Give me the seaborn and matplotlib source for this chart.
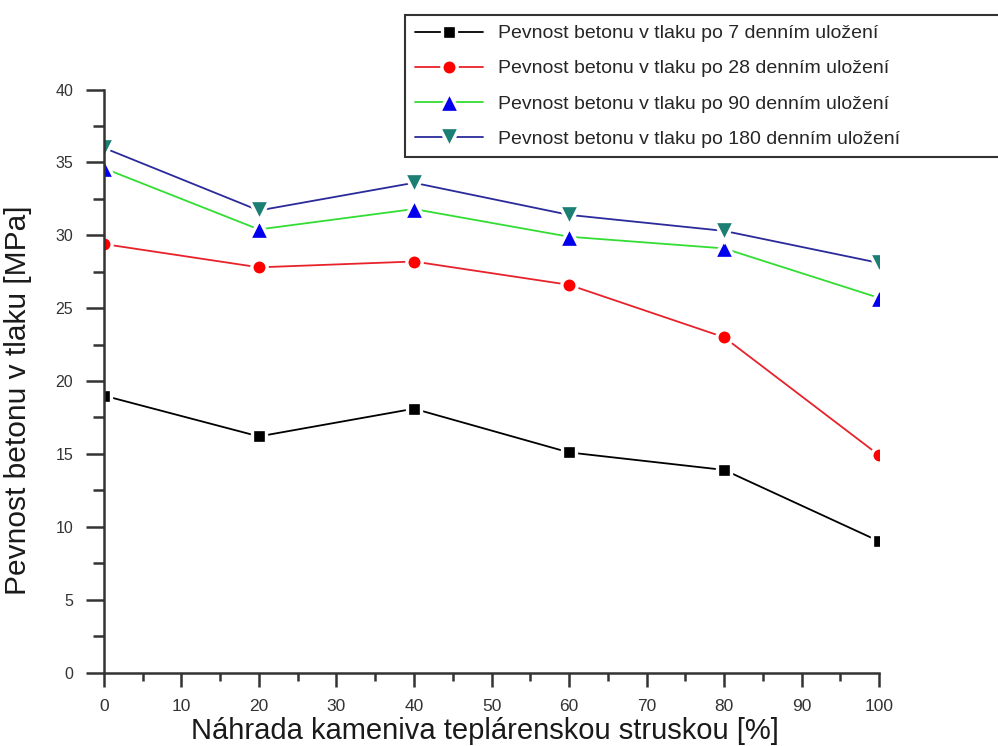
import matplotlib
matplotlib.use("Agg")
import matplotlib.pyplot as plt
from matplotlib.ticker import MultipleLocator
import seaborn as sns
import pandas as pd

# Replacement of aggregate by heating-plant slag [%]
nahrada = [0, 20, 40, 60, 80, 100]

# Compressive strength [MPa] after curing period
pevnost_7 = [19.0, 16.2, 18.1, 15.1, 13.9, 9.0]
pevnost_28 = [29.4, 27.8, 28.2, 26.6, 23.0, 14.9]
pevnost_90 = [34.6, 30.4, 31.8, 29.9, 29.1, 25.7]
pevnost_180 = [36.0, 31.7, 33.6, 31.4, 30.3, 28.1]

nazvy = [
    "Pevnost betonu v tlaku po 7 denním uložení",
    "Pevnost betonu v tlaku po 28 denním uložení",
    "Pevnost betonu v tlaku po 90 denním uložení",
    "Pevnost betonu v tlaku po 180 denním uložení",
]

sns.set_theme(style="white")
plt.rcParams["font.family"] = ["Liberation Sans", "DejaVu Sans"]

df = pd.DataFrame({
    "nahrada": nahrada * 4,
    "pevnost": pevnost_7 + pevnost_28 + pevnost_90 + pevnost_180,
    "serie": sum([[n] * len(nahrada) for n in nazvy], []),
})

styly = [
    dict(color="black", marker="s", markerfacecolor="black", markersize=10),
    dict(color="#e8222a", marker="o", markerfacecolor="#ff0000", markersize=11),
    dict(color="#33dd33", marker="^", markerfacecolor="#0000ee", markersize=15),
    dict(color="#2a2a9a", marker="v", markerfacecolor="#1b7f74", markersize=15),
]

fig = plt.figure(figsize=(9.98, 7.46), dpi=100)
ax = fig.add_axes([0.104, 0.0985, 0.777, 0.7815])

for nazev, st in zip(nazvy, styly):
    sub = df[df["serie"] == nazev]
    sns.lineplot(data=sub, x="nahrada", y="pevnost", ax=ax, label=nazev,
                 linewidth=1.3, markeredgecolor="white", markeredgewidth=2.4,
                 **st)

ax.set_xlim(0, 100)
ax.set_ylim(0, 40)
ax.xaxis.set_major_locator(MultipleLocator(10))
ax.xaxis.set_minor_locator(MultipleLocator(5))
ax.yaxis.set_major_locator(MultipleLocator(5))
ax.yaxis.set_minor_locator(MultipleLocator(2.5))

for side in ("top", "right"):
    ax.spines[side].set_visible(False)
for side in ("left", "bottom"):
    ax.spines[side].set_color("#333333")
    ax.spines[side].set_linewidth(1.8)

ax.tick_params(axis="y", which="major", direction="out", length=13, width=1.8,
               color="#333333", labelsize=11.5, labelcolor="#333333", pad=9, left=True)
ax.tick_params(axis="y", which="minor", direction="out", length=8, width=1.8,
               color="#333333", left=True)
ax.tick_params(axis="x", which="major", direction="out", length=10, width=1.8,
               color="#333333", labelsize=12.5, labelcolor="#333333", pad=9, bottom=True)
ax.tick_params(axis="x", which="minor", direction="out", length=6, width=1.8,
               color="#333333", bottom=True)

ax.set_xlabel("Náhrada kameniva teplárenskou struskou [%]", fontsize=21,
              color="#1a1a1a")
ax.set_ylabel("Pevnost betonu v tlaku [MPa]", fontsize=21.5, color="#1a1a1a")
ax.xaxis.set_label_coords(0.4915, -0.0755)
ax.yaxis.set_label_coords(-0.092, 0.467)

handles, labels = ax.get_legend_handles_labels()
ax.legend_.remove()
leg = fig.legend(handles, labels, loc="upper left",
                 bbox_to_anchor=(405 / 998, 1 - 15 / 746 - 0.01, (1010 - 405) / 998, 0.01),
                 mode="expand", fontsize=14, frameon=True, fancybox=False,
                 edgecolor="black", handlelength=3.5, handletextpad=0.8,
                 labelspacing=0.9, borderpad=0.5, borderaxespad=0, numpoints=1)
leg.get_frame().set_linewidth(1.5)

fig.savefig("out.png", dpi=100)
